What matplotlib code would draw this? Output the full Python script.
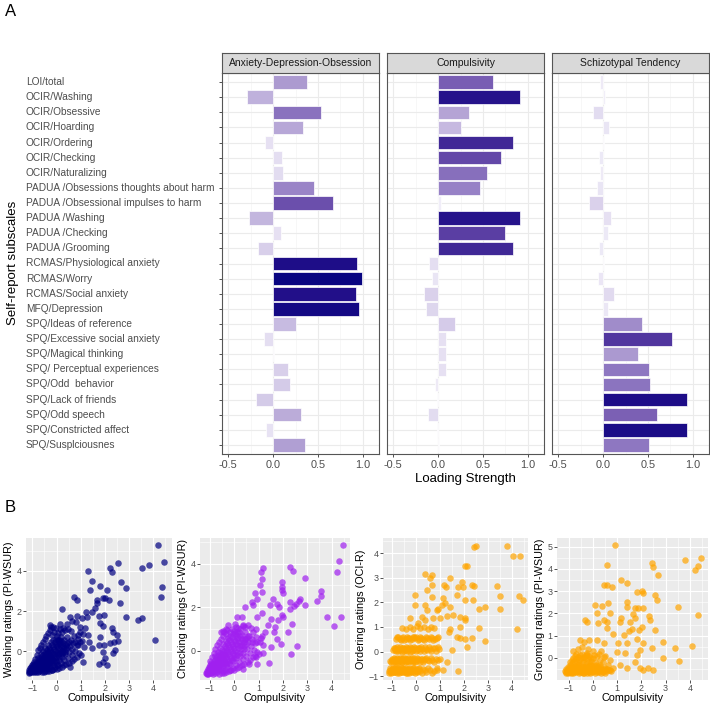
import numpy as np
import matplotlib
matplotlib.use("Agg")
import matplotlib.pyplot as plt
from matplotlib.colors import LinearSegmentedColormap
from matplotlib import transforms

plt.rcParams['font.family'] = ['Liberation Sans', 'DejaVu Sans']

# ---------------- Panel A data ----------------
subscales = [
    "LOI/total", "OCIR/Washing", "OCIR/Obsessive", "OCIR/Hoarding", "OCIR/Ordering",
    "OCIR/Checking", "OCIR/Naturalizing", "PADUA /Obsessions thoughts about harm",
    "PADUA /Obsessional impulses to harm", "PADUA /Washing", "PADUA /Checking",
    "PADUA /Grooming", "RCMAS/Physiological anxiety", "RCMAS/Worry",
    "RCMAS/Social anxiety", "MFQ/Depression", "SPQ/Ideas of reference",
    "SPQ/Excessive social anxiety", "SPQ/Magical thinking", "SPQ/ Perceptual experiences",
    "SPQ/Odd  behavior", "SPQ/Lack of friends", "SPQ/Odd speech",
    "SPQ/Constricted affect", "SPQ/Susplciousnes",
]
factors = ["Anxiety-Depression-Obsession", "Compulsivity", "Schizotypal Tendency"]

loading_ado = [0.38, -0.29, 0.53, 0.33, -0.09, 0.10, 0.11, 0.46, 0.67, -0.27, 0.09, -0.17,
               0.93, 0.99, 0.92, 0.96, 0.25, -0.10, 0.01, 0.17, 0.19, -0.19, 0.31, -0.08, 0.36]
loading_comp = [0.61, 0.91, 0.34, 0.26, 0.83, 0.70, 0.54, 0.47, 0.03, 0.91, 0.74, 0.83,
                -0.10, -0.07, -0.16, -0.14, 0.185, 0.09, 0.09, 0.09, -0.04, -0.01, -0.11, -0.01, 0.005]
loading_schizo = [-0.04, 0.02, -0.11, 0.07, 0.005, -0.05, -0.04, -0.07, -0.16, 0.09, 0.05, -0.05,
                  0.005, -0.06, 0.12, 0.055, 0.43, 0.77, 0.385, 0.51, 0.52, 0.93, 0.60, 0.94, 0.51]
loadings = [loading_ado, loading_comp, loading_schizo]

# ---------------- Panel B data (Compulsivity, rating) ----------------
washing_points = [
    [4.21, 5.29], [4.45, 4.46], [3.82, 4.30], [3.55, 4.13], [4.34, 3.22], [4.32, 2.69],
    [4.08, 0.56], [3.52, 1.68], [3.38, 1.54], [2.87, 1.73], [2.87, 3.14], [2.65, 3.44],
    [2.55, 4.38], [2.21, 4.17], [2.31, 3.93], [2.62, 2.42], [2.18, 2.56], [2.07, 3.05],
    [1.80, 3.27], [1.31, 4.00], [1.45, 3.50], [1.38, 3.05], [1.66, 2.56], [1.69, 2.39],
    [1.93, 2.64], [2.00, 2.67], [1.45, 1.97], [1.59, 2.14], [0.72, 2.72], [0.86, 2.56],
    [0.21, 2.11], [1.22, 1.94], [1.77, 1.76], [1.98, 1.81], [1.80, 1.43], [1.91, 1.28],
    [2.28, 1.18], [2.35, 0.98], [2.48, 0.81], [2.55, 0.51], [2.39, 0.48], [2.42, 0.07],
    [2.35, -0.10], [2.21, 0.40], [1.96, 0.32], [1.80, 0.73], [1.77, 0.32], [1.11, -0.51],
    [1.77, -0.65], [1.93, -0.05], [2.00, -0.35], [2.07, -0.68], [1.93, -0.51], [1.45, 0.15],
    [1.36, 0.48], [1.31, 0.81], [1.18, 1.15], [0.97, 1.23], [1.11, 0.85], [0.87, 0.81],
    [0.97, 0.48], [0.76, 0.48], [1.27, 1.73], [1.04, 1.68], [0.86, 1.76], [0.56, 1.73],
    [0.63, 1.51], [0.42, 1.34], [0.80, 1.44], [-0.27, 1.31], [-0.13, 1.23], [0.14, 1.34],
    [0.28, 1.18], [0.00, -0.68], [-0.41, -0.85],
    [-1.13, -1.06], [-1.10, -0.98], [-1.08, -1.04], [-1.05, -0.92], [-1.03, -1.01], [-1.01, -0.86],
    [-0.99, -0.97], [-0.97, -0.78], [-0.95, -1.03], [-0.93, -0.90], [-0.91, -0.70], [-0.89, -0.99],
    [-0.87, -0.83], [-0.85, -0.62], [-0.83, -0.95], [-0.81, -0.74], [-0.79, -0.52], [-0.77, -0.88],
    [-0.75, -0.66], [-0.73, -0.41], [-0.71, -1.00], [-0.69, -0.79], [-0.67, -0.57], [-0.65, -0.30],
    [-0.63, -0.92], [-0.61, -0.70], [-0.59, -0.47], [-0.57, -0.20], [-0.55, -0.85], [-0.53, -0.61],
    [-0.51, -0.37], [-0.49, -0.08], [-0.47, -0.97], [-0.45, -0.74], [-0.43, -0.50], [-0.41, -0.25],
    [-0.39, 0.05], [-0.37, -0.88], [-0.35, -0.64], [-0.33, -0.40], [-0.31, -0.14], [-0.29, 0.18],
    [-0.27, -0.78], [-0.25, -0.53], [-0.23, -0.28], [-0.21, -0.02], [-0.19, 0.30], [-0.17, -0.92],
    [-0.15, -0.67], [-0.13, -0.42], [-0.11, -0.16], [-0.09, 0.12], [-0.07, 0.45], [-0.05, -0.80],
    [-0.03, -0.55], [-0.01, -0.29], [0.01, -0.03], [0.03, 0.26], [0.05, 0.58], [0.07, -0.68],
    [0.09, -0.42], [0.11, -0.15], [0.13, 0.12], [0.15, 0.40], [0.18, 0.72], [0.20, -0.58],
    [0.22, -0.30], [0.25, -0.02], [0.27, 0.27], [0.30, 0.55], [0.33, -0.45], [0.36, -0.16],
    [0.39, 0.12], [0.42, 0.40], [0.45, 0.70], [0.48, -0.32], [0.52, -0.02], [0.55, 0.28],
    [0.58, 0.58], [0.62, -0.18], [0.66, 0.12], [0.70, 0.42], [0.74, 0.75], [0.78, 0.02],
    [0.83, 0.30], [0.88, 0.60], [0.92, -0.10],
    [-0.95, -0.55], [-0.88, -0.40], [-0.82, -0.20], [-0.76, 0.05], [-0.70, 0.15], [-0.62, 0.30],
    [-0.55, 0.45], [-0.48, 0.62], [-0.42, 0.75], [-0.35, 0.90], [-0.28, 1.05], [-0.20, 0.80],
    [-0.12, 0.95], [-0.02, 1.15], [0.08, 0.90], [0.14, 1.10], [0.24, 0.95], [0.35, 1.05],
    [0.48, 1.10], [0.60, 1.00], [-0.22, 1.22], [0.00, 0.75],
    [-0.60, -1.02], [-0.50, -1.05], [-0.40, -1.00], [-0.30, -0.98], [-0.20, -0.95], [-0.10, -0.90],
    [0.00, -0.88], [0.10, -0.82], [0.22, -0.78], [0.30, -0.70], [0.40, -0.65], [0.50, -0.60],
    [0.62, -0.50], [0.72, -0.40], [0.85, -0.30], [-0.85, -1.05], [-0.78, -1.02], [-1.15, -1.02],
    [-1.12, -0.92], [-1.08, -0.85], [-1.04, -0.78], [-1.00, -0.68], [-0.96, -0.62],
    [0.55, -0.80], [0.90, 0.30], [1.00, -0.20], [1.05, 0.50], [0.95, 0.95], [1.15, 0.20],
    [-1.06, -0.97], [-1.01, -0.93], [-0.97, -0.88], [-0.92, -0.95], [-0.90, -0.78], [-0.86, -0.72],
    [-0.83, -0.86], [-0.79, -0.66], [-0.76, -0.80], [-0.73, -0.58], [-0.70, -0.86], [-0.68, -0.46],
    [-0.64, -0.64], [-0.61, -0.38], [-0.58, -0.76], [-0.55, -0.52], [-0.52, -0.26], [-0.50, -0.68],
    [-0.47, -0.44], [-0.44, -0.16], [-0.42, -0.60], [-0.38, -0.34], [-0.36, -0.06], [-0.33, -0.72],
    [-0.30, -0.48], [-0.27, -0.22], [-0.25, 0.08], [-0.22, -0.60], [-0.20, -0.36], [-0.17, -0.10],
    [-0.14, 0.20], [-0.12, -0.52], [-0.09, -0.26], [-0.06, 0.02], [-0.04, 0.32], [-0.01, -0.42],
    [0.02, -0.14], [0.05, 0.14], [0.08, 0.42], [0.10, -0.30], [0.14, -0.02], [0.17, 0.26],
    [0.21, 0.02], [0.24, -0.14], [0.28, 0.42], [0.31, 0.18], [0.35, -0.02], [0.38, 0.30],
    [0.44, 0.22], [0.50, 0.48], [-0.78, -0.32], [-0.66, -0.14], [-0.56, 0.02], [-0.46, 0.14],
    [-0.34, 0.30], [-0.24, 0.46], [-0.14, 0.56], [-0.04, 0.62], [0.10, 0.58], [0.20, 0.50],
]

checking_points = [
    [4.48, 4.86], [4.32, 4.12], [4.23, 3.63], [4.37, 1.54], [4.11, 1.13], [3.82, 1.54],
    [3.56, 2.73], [3.55, 2.52], [3.41, 2.29], [2.90, 3.35], [2.90, 2.12], [2.70, 2.39],
    [2.67, 2.29], [2.55, 2.16], [2.29, 3.86], [2.42, 3.66], [2.29, 2.24], [2.29, 1.90],
    [2.45, 2.05], [2.36, 1.24], [2.22, 0.85], [2.56, 0.23], [2.33, -0.15], [1.95, 3.17],
    [1.95, 2.93], [1.95, 2.78], [2.01, 2.63], [1.74, 2.16], [1.60, 2.39], [1.84, 2.01],
    [1.95, 1.62], [2.01, 1.54], [1.81, 1.39], [1.67, 1.08], [1.64, 0.85], [1.92, 0.31],
    [1.74, 0.54], [1.19, 3.81], [1.08, 3.63], [1.16, 3.27], [1.15, 2.70], [1.05, 3.01],
    [0.92, 2.39], [0.85, 2.63], [0.71, 2.24], [0.78, 2.12], [0.92, 1.54], [0.44, 2.01],
    [1.12, 1.73], [1.47, 2.08], [1.53, 1.47], [1.40, 1.16], [1.26, 0.85], [1.12, 0.70],
    [1.05, 0.42], [1.44, -0.54], [0.92, -0.62], [0.85, -0.23], [1.19, -0.08], [1.53, 0.15],
    [0.10, 0.85], [0.37, 1.16], [0.10, 1.54], [0.30, 1.54], [0.03, 1.24], [-0.25, 1.19],
    [-0.32, 1.00], [0.37, -0.85], [0.71, 0.39], [0.58, 0.70], [0.44, 0.54],
    [-1.14, -1.08], [-1.11, -1.00], [-1.09, -1.05], [-1.06, -0.94], [-1.04, -1.02], [-1.02, -0.86],
    [-1.00, -0.96], [-0.98, -0.76], [-0.96, -1.04], [-0.94, -0.88], [-0.92, -0.66], [-0.90, -0.98],
    [-0.88, -0.80], [-0.86, -0.56], [-0.84, -0.93], [-0.82, -0.70], [-0.80, -0.44], [-0.78, -0.86],
    [-0.76, -0.60], [-0.74, -0.32], [-0.72, -0.99], [-0.70, -0.76], [-0.68, -0.50], [-0.66, -0.20],
    [-0.64, -0.90], [-0.62, -0.64], [-0.60, -0.38], [-0.58, -0.08], [-0.56, -0.82], [-0.54, -0.56],
    [-0.52, -0.28], [-0.50, 0.05], [-0.48, -0.95], [-0.46, -0.70], [-0.44, -0.42], [-0.42, -0.14],
    [-0.40, 0.20], [-0.38, -0.86], [-0.36, -0.58], [-0.34, -0.30], [-0.32, 0.00], [-0.30, 0.35],
    [-0.28, -0.75], [-0.26, -0.46], [-0.24, -0.16], [-0.22, 0.15], [-0.20, 0.50], [-0.18, -0.90],
    [-0.16, -0.62], [-0.14, -0.32], [-0.12, -0.02], [-0.10, 0.30], [-0.08, 0.65], [-0.06, -0.78],
    [-0.04, -0.48], [-0.02, -0.18], [0.00, 0.14], [0.02, 0.45], [0.04, 0.80], [0.07, -0.65],
    [0.09, -0.35], [0.11, -0.04], [0.13, 0.28], [0.16, 0.60], [0.19, 0.88], [0.21, -0.52],
    [0.23, -0.22], [0.26, 0.10], [0.28, 0.40], [0.31, 0.72], [0.34, -0.38], [0.37, -0.08],
    [0.40, 0.24], [0.43, 0.55], [0.46, 0.88], [0.50, -0.25], [0.53, 0.06], [0.56, 0.38],
    [0.60, 0.70], [0.64, -0.12], [0.68, 0.20], [0.72, 0.52], [0.76, 0.85], [0.80, 0.05],
    [0.85, 0.35], [0.90, 0.65], [0.95, -0.05],
    [-0.98, -0.45], [-0.92, -0.30], [-0.85, -0.10], [-0.78, 0.10], [-0.72, 0.25], [-0.64, 0.40],
    [-0.56, 0.55], [-0.48, 0.70], [-0.42, 0.88], [-0.36, 0.75], [-0.28, 0.95], [-0.18, 0.85],
    [-0.10, 1.00], [-0.02, 0.90], [0.06, 1.10], [0.15, 1.05], [0.25, 1.00], [0.35, 1.15],
    [0.45, 1.10], [0.55, 1.20], [-0.55, 0.85], [-0.46, 0.92],
    [-0.62, -1.05], [-0.52, -1.02], [-0.42, -1.00], [-0.32, -0.96], [-0.22, -0.94], [-0.12, -0.88],
    [-0.02, -0.86], [0.10, -0.80], [0.20, -0.76], [0.32, -0.66], [0.42, -0.60], [0.55, -0.52],
    [0.65, -0.42], [0.75, -0.30], [0.88, -0.28], [-0.86, -1.06], [-0.78, -1.03], [-1.16, -1.04],
    [-1.13, -0.93], [-1.09, -0.84], [-1.05, -0.76], [-1.01, -0.66], [-0.97, -0.58],
    [0.60, -0.60], [0.95, 0.40], [1.00, -0.15], [1.10, 0.60], [0.90, 1.00], [1.20, 0.25], [0.70, 1.05],
    [-1.07, -0.98], [-1.03, -0.90], [-0.99, -0.84], [-0.95, -0.94], [-0.91, -0.74], [-0.87, -0.66],
    [-0.83, -0.82], [-0.79, -0.58], [-0.75, -0.76], [-0.71, -0.50], [-0.69, -0.84], [-0.65, -0.36],
    [-0.63, -0.60], [-0.59, -0.26], [-0.57, -0.70], [-0.53, -0.44], [-0.51, -0.14], [-0.49, -0.62],
    [-0.45, -0.32], [-0.43, 0.00], [-0.41, -0.54], [-0.37, -0.20], [-0.35, 0.12], [-0.33, -0.64],
    [-0.29, -0.38], [-0.27, -0.06], [-0.25, 0.26], [-0.21, -0.54], [-0.19, -0.24], [-0.15, 0.06],
    [-0.13, 0.40], [-0.11, -0.44], [-0.07, -0.12], [-0.05, 0.20], [-0.03, 0.50], [0.00, -0.32],
    [0.03, -0.02], [0.06, 0.30], [0.10, 0.60], [0.12, -0.20], [0.15, 0.12], [0.18, 0.42],
    [0.22, 0.22], [0.25, -0.08], [0.30, 0.55], [0.33, 0.26], [0.38, 0.06], [0.41, 0.40],
    [0.47, 0.30], [0.52, 0.60], [-0.80, -0.26], [-0.68, -0.04], [-0.58, 0.14], [-0.46, 0.30],
    [-0.36, 0.46], [-0.26, 0.60], [-0.16, 0.68], [-0.06, 0.76], [0.08, 0.72], [0.22, 0.70],
]

ordering_points = [
    [2.51, 4.29], [2.43, 4.24], [3.79, 4.29], [4.07, 3.90], [4.35, 3.90], [2.06, 3.48],
    [2.13, 3.48], [0.39, 3.15], [0.67, 3.11], [1.43, 2.98], [1.92, 2.84], [2.33, 2.70],
    [2.43, 2.66], [3.38, 2.66], [3.51, 2.26], [4.32, 2.26], [4.46, 2.09], [3.51, 1.75],
    [2.89, 1.82], [2.65, 1.71], [1.99, 2.64], [1.78, 2.64], [2.06, 2.09], [2.40, 2.09],
    [1.71, 2.30], [1.43, 1.82], [1.22, 1.96], [1.19, 2.70], [1.26, 2.64], [1.15, 2.16],
    [0.67, 2.70], [0.60, 2.98], [0.46, 2.50], [0.67, 2.23], [-0.03, 2.30], [-0.03, 1.89],
    [0.39, 1.89], [0.49, 1.68], [0.94, 1.75], [1.08, 1.89], [0.88, 1.68], [1.57, 1.48],
    [1.85, 1.41], [2.06, 1.35], [2.06, 1.28], [1.29, 1.44], [1.01, 1.35], [0.74, 1.35],
    [0.39, 1.28], [0.25, 1.41], [-0.24, 1.35], [0.11, 1.14], [1.43, 0.90], [1.40, 0.80],
    [1.85, 1.00], [1.71, 0.60], [1.85, 0.53], [2.06, 0.49], [2.33, 0.56], [2.13, 0.19],
    [2.89, 0.43], [2.64, 0.94], [4.21, 0.91], [1.29, -0.42], [1.78, -0.79], [1.15, -0.76],
    [1.50, 0.05], [1.01, -0.31], [0.88, -0.69],
    # band around -0.8
    [-1.12, -0.86], [-1.08, -0.74], [-1.04, -0.82], [-1.00, -0.70], [-0.96, -0.85], [-0.92, -0.76],
    [-0.88, -0.66], [-0.84, -0.84], [-0.80, -0.72], [-0.76, -0.80], [-0.72, -0.68], [-0.68, -0.86],
    [-0.64, -0.75], [-0.60, -0.65], [-0.56, -0.82], [-0.52, -0.72], [-0.48, -0.84], [-0.44, -0.68],
    [-0.40, -0.78], [-0.36, -0.86], [-0.32, -0.70], [-0.28, -0.80], [-0.24, -0.66], [-0.20, -0.84],
    [-0.15, -0.74], [-0.10, -0.82], [-0.05, -0.68], [0.00, -0.78], [0.06, -0.85], [0.12, -0.72],
    [0.20, -0.80], [0.30, -0.70], [0.45, -0.82], [0.60, -0.74], [0.75, -0.80],
    [-1.10, -0.78], [-1.06, -0.68], [-1.02, -0.88], [-0.98, -0.76], [-0.94, -0.68], [-0.90, -0.84],
    [-0.86, -0.76], [-0.82, -0.64], [-0.78, -0.86], [-0.74, -0.76], [-0.70, -0.80], [-0.66, -0.70],
    [-0.62, -0.84], [-0.58, -0.76], [-0.54, -0.66], [-0.50, -0.80], [-0.46, -0.74], [-0.42, -0.86],
    [-0.38, -0.70], [-0.34, -0.80], [-0.30, -0.76], [-0.26, -0.86], [-0.22, -0.72], [-0.18, -0.78],
    [-0.12, -0.66], [-0.08, -0.76], [-0.02, -0.86], [0.04, -0.70], [0.09, -0.78], [0.16, -0.68],
    [0.25, -0.86], [0.38, -0.76], [0.52, -0.68], [0.68, -0.86], [0.90, -0.76],
    # band around -0.35
    [-1.06, -0.38], [-1.00, -0.30], [-0.95, -0.42], [-0.90, -0.26], [-0.85, -0.36], [-0.80, -0.44],
    [-0.75, -0.30], [-0.70, -0.38], [-0.65, -0.26], [-0.60, -0.42], [-0.55, -0.32], [-0.50, -0.38],
    [-0.45, -0.28], [-0.40, -0.44], [-0.35, -0.34], [-0.30, -0.26], [-0.25, -0.40], [-0.20, -0.30],
    [-0.15, -0.36], [-0.10, -0.44], [-0.05, -0.28], [0.02, -0.38], [0.10, -0.32], [0.18, -0.42],
    [0.26, -0.30], [0.35, -0.36], [0.45, -0.28], [0.55, -0.40], [0.70, -0.34], [0.85, -0.30],
    [-1.02, -0.44], [-0.97, -0.34], [-0.92, -0.40], [-0.87, -0.30], [-0.82, -0.38], [-0.77, -0.26],
    [-0.72, -0.44], [-0.67, -0.34], [-0.62, -0.30], [-0.57, -0.44], [-0.52, -0.26], [-0.47, -0.36],
    [-0.42, -0.30], [-0.37, -0.40], [-0.32, -0.44], [-0.27, -0.30], [-0.22, -0.36], [-0.17, -0.26],
    [-0.12, -0.40], [-0.07, -0.34], [-0.01, -0.44], [0.06, -0.28], [0.14, -0.36], [0.22, -0.30],
    [0.31, -0.42], [0.40, -0.32], [0.50, -0.36], [0.62, -0.28], [0.78, -0.42], [0.95, -0.36],
    # band around 0.1
    [-0.95, 0.08], [-0.88, 0.14], [-0.82, 0.02], [-0.76, 0.18], [-0.70, 0.06], [-0.64, 0.12],
    [-0.58, 0.00], [-0.52, 0.16], [-0.46, 0.08], [-0.40, 0.20], [-0.34, 0.04], [-0.28, 0.12],
    [-0.22, 0.18], [-0.16, 0.02], [-0.10, 0.10], [-0.04, 0.16], [0.04, 0.06], [0.12, 0.14],
    [0.20, 0.02], [0.28, 0.12], [0.38, 0.18], [0.48, 0.06], [0.60, 0.12], [0.72, 0.16],
    [0.85, 0.04], [0.98, 0.10],
    [-0.92, 0.16], [-0.85, 0.06], [-0.79, 0.10], [-0.73, 0.02], [-0.67, 0.18], [-0.61, 0.08],
    [-0.55, 0.14], [-0.49, 0.02], [-0.43, 0.12], [-0.37, 0.16], [-0.31, 0.06], [-0.25, 0.00],
    [-0.19, 0.14], [-0.13, 0.08], [-0.07, 0.20], [0.00, 0.04], [0.08, 0.16], [0.16, 0.10],
    [0.24, 0.18], [0.33, 0.04], [0.43, 0.12], [0.54, 0.18], [0.66, 0.04], [0.80, 0.14],
    [0.92, 0.18],
    # band around 0.55
    [-0.82, 0.50], [-0.72, 0.58], [-0.62, 0.46], [-0.52, 0.60], [-0.42, 0.52], [-0.32, 0.56],
    [-0.22, 0.48], [-0.12, 0.60], [-0.02, 0.54], [0.08, 0.48], [0.18, 0.58], [0.30, 0.52],
    [0.42, 0.60], [0.55, 0.50], [0.68, 0.56], [0.80, 0.52], [0.95, 0.58],
    [-0.77, 0.60], [-0.67, 0.50], [-0.57, 0.56], [-0.47, 0.48], [-0.37, 0.60], [-0.27, 0.54],
    [-0.17, 0.50], [-0.07, 0.58], [0.03, 0.60], [0.13, 0.52], [0.24, 0.56], [0.36, 0.48],
    [0.48, 0.56], [0.62, 0.60], [0.74, 0.48], [0.88, 0.56],
    # band around 1.0
    [-0.55, 0.96], [-0.40, 0.90], [-0.25, 1.00], [-0.10, 0.92], [0.05, 1.02], [0.20, 0.94],
    [0.35, 1.00], [0.50, 0.90], [0.62, 0.98], [0.78, 0.94],
]

grooming_points = [
    [0.92, 5.07], [0.60, 4.18], [3.79, 4.40], [4.45, 4.51], [4.34, 4.15], [4.21, 3.95],
    [2.42, 4.25], [2.47, 4.07], [2.70, 3.73], [1.15, 3.50], [1.40, 3.35], [0.58, 3.28],
    [0.78, 3.20], [0.44, 3.28], [1.84, 2.98], [2.01, 3.02], [2.05, 2.90], [2.56, 2.83],
    [2.63, 2.60], [1.40, 2.53], [1.42, 2.31], [1.74, 2.23], [1.88, 2.23], [2.08, 2.23],
    [2.32, 1.89], [2.36, 1.71], [3.53, 2.31], [4.34, 1.93], [1.67, 1.98], [1.74, 1.78],
    [1.15, 1.78], [1.12, 1.63], [1.53, 1.63], [0.64, 2.46], [0.10, 2.38], [0.37, 2.35],
    [0.71, 2.01], [0.44, 1.71], [0.23, 1.59], [0.58, 1.63], [0.16, 2.01], [-0.32, 1.71],
    [-0.25, 1.63], [0.58, 1.33], [0.85, 1.08], [1.29, 1.03], [1.47, 1.23], [1.60, 1.29],
    [1.92, 1.26], [2.01, 1.38], [2.56, 1.26], [2.90, 0.73], [1.84, 0.84], [2.08, 0.66],
    [2.42, 0.43], [3.38, 0.43], [4.07, 0.54], [2.90, -0.01], [3.55, -0.15], [2.49, -0.54],
    [2.29, -0.46], [1.95, -0.46], [2.08, -0.54], [1.74, -0.16], [1.33, 0.21], [0.99, 0.28],
    [1.05, 0.66], [1.40, 0.66], [0.44, 0.66], [0.16, 0.81], [-0.14, 0.81], [-0.38, 0.73],
    [-0.52, 0.81], [-0.25, 0.21], [1.12, -0.31], [1.40, -0.46], [0.85, -0.46], [0.30, -0.39],
    [1.81, 0.13], [1.95, 0.36],
    # dense floor cluster
    [-1.12, -0.66], [-1.08, -0.60], [-1.04, -0.66], [-1.00, -0.55], [-0.96, -0.64], [-0.92, -0.50],
    [-0.88, -0.62], [-0.84, -0.42], [-0.80, -0.60], [-0.76, -0.52], [-0.72, -0.34], [-0.68, -0.64],
    [-0.64, -0.48], [-0.60, -0.58], [-0.56, -0.28], [-0.52, -0.62], [-0.48, -0.44], [-0.44, -0.56],
    [-0.40, -0.20], [-0.36, -0.66], [-0.32, -0.50], [-0.28, -0.36], [-0.24, -0.60], [-0.20, -0.46],
    [-0.16, -0.62], [-0.12, -0.30], [-0.08, -0.54], [-0.04, -0.64], [0.00, -0.42], [0.05, -0.58],
    [0.10, -0.50], [0.15, -0.62], [0.20, -0.36], [0.26, -0.56], [0.32, -0.48], [0.40, -0.62],
    [0.48, -0.44], [0.56, -0.58], [0.65, -0.52], [0.75, -0.60],
    [-1.10, -0.48], [-1.02, -0.40], [-0.94, -0.30], [-0.86, -0.22], [-0.78, -0.14], [-0.70, -0.06],
    [-0.62, 0.04], [-0.54, 0.12], [-0.46, 0.20], [-0.38, 0.06], [-0.30, 0.14], [-0.22, -0.04],
    [-0.14, 0.08], [-0.06, -0.12], [0.02, 0.02], [0.10, -0.18], [0.18, 0.10], [0.28, -0.10],
    [-0.90, -0.66], [-0.82, -0.66], [-0.74, -0.58], [-0.66, -0.40], [-0.58, -0.66], [-0.50, -0.52],
    [-0.42, -0.66], [-0.34, -0.42], [-0.26, -0.66], [-0.18, -0.54], [-0.10, -0.66], [-0.02, -0.50],
    [0.08, -0.66], [0.22, -0.60], [0.35, -0.66], [0.52, -0.66], [0.62, -0.32], [0.70, -0.10],
    [-0.80, 0.30], [-0.60, 0.40], [-0.45, 0.50], [-0.70, 0.20], [0.35, 0.30], [0.50, 0.10],
    [0.00, 0.30], [-0.20, 0.40],
    [-1.14, -0.60], [-1.10, -0.64], [-1.06, -0.52], [-1.02, -0.62], [-0.98, -0.46], [-0.94, -0.58],
    [-0.90, -0.40], [-0.86, -0.56], [-0.82, -0.46], [-0.78, -0.62], [-0.74, -0.40], [-0.70, -0.52],
    [-0.66, -0.58], [-0.62, -0.30], [-0.58, -0.46], [-0.54, -0.56], [-0.50, -0.34], [-0.46, -0.62],
    [-0.42, -0.40], [-0.38, -0.52], [-0.34, -0.60], [-0.30, -0.26], [-0.26, -0.46], [-0.22, -0.58],
    [-0.18, -0.36], [-0.14, -0.48], [-0.10, -0.56], [-0.06, -0.30], [-0.02, -0.60], [0.03, -0.48],
    [0.08, -0.36], [0.13, -0.56], [0.18, -0.46], [0.24, -0.64], [0.30, -0.30], [0.36, -0.54],
    [0.44, -0.50], [0.52, -0.56], [0.60, -0.48], [0.70, -0.56], [-0.96, -0.20], [-0.88, -0.10],
    [-0.80, 0.00], [-0.72, 0.10], [-0.64, -0.20], [-0.56, -0.08], [-0.48, 0.02], [-0.40, -0.10],
    [-0.32, -0.02], [-0.24, 0.12], [-0.16, -0.20], [-0.08, 0.00], [0.06, 0.12], [0.14, -0.30],
    [0.24, 0.20], [0.40, -0.20], [0.46, 0.04],
]

scatter_specs = [
    (washing_points, "#000080", "Washing ratings (PI-WSUR)"),
    (checking_points, "#A020F0", "Checking ratings (PI-WSUR)"),
    (ordering_points, "#FFA500", "Ordering ratings (OCI-R)"),
    (grooming_points, "#FFA500", "Grooming ratings (PI-WSUR)"),
]

# ---------------- Figure ----------------
W, H = 710, 703
fig = plt.figure(figsize=(W / 100, H / 100), dpi=100)


def fbox(x0, y0, x1, y1):
    return [x0 / W, 1 - y1 / H, (x1 - x0) / W, (y1 - y0) / H]


cmap = LinearSegmentedColormap.from_list("load", [
    (0.0, "#f4f2fa"), (0.1, "#e4def1"), (0.2, "#d2c8e7"), (0.35, "#b3a2d4"),
    (0.5, "#9079c2"), (0.6, "#7b60b4"), (0.75, "#583ca2"), (0.85, "#3a2393"),
    (0.93, "#1f0d88"), (1.0, "#060480")])

grey_txt = "#4d4d4d"
panel_x = [(222, 379), (387, 544), (552, 709)]
ypos = np.arange(len(subscales))
bar_axes = []
for k, (x0, x1) in enumerate(panel_x):
    ax = fig.add_axes(fbox(x0, 73, x1, 454))
    bar_axes.append(ax)
    vals = np.array(loadings[k])
    ax.barh(ypos, vals, height=0.9, color=cmap(np.clip(np.abs(vals), 0, 1)),
            edgecolor="white", linewidth=0.5, zorder=3)
    ax.set_xlim(-0.57, 1.18)
    ax.set_ylim(len(subscales) - 0.4, -0.6)
    ax.set_xticks([-0.5, 0.0, 0.5, 1.0])
    ax.set_xticklabels(["-0.5", "0.0", "0.5", "1.0"], fontsize=7.8, color=grey_txt)
    ax.set_xticks([-0.25, 0.25, 0.75], minor=True)
    ax.set_yticks(ypos)
    ax.set_yticklabels([])
    ax.grid(True, which="major", color="#ebebeb", linewidth=0.8, zorder=0)
    ax.grid(True, which="minor", axis="x", color="#f4f4f4", linewidth=0.5, zorder=0)
    ax.set_axisbelow(True)
    ax.tick_params(axis="x", which="major", length=2.5, width=0.6, color="#333333", pad=2)
    ax.tick_params(axis="x", which="minor", length=0)
    if k == 0:
        ax.tick_params(axis="y", length=2.5, width=0.6, color="#333333")
    else:
        ax.tick_params(axis="y", length=0)
    for s in ax.spines.values():
        s.set_color("#555555")
        s.set_linewidth(0.8)
    # strip
    sax = fig.add_axes(fbox(x0, 53, x1, 73))
    sax.set_facecolor("#d9d9d9")
    sax.set_xticks([])
    sax.set_yticks([])
    for s in sax.spines.values():
        s.set_color("#555555")
        s.set_linewidth(0.8)
    sax.text(0.5, 0.5, factors[k], ha="center", va="center", fontsize=7.5, color="#1a1a1a",
             transform=sax.transAxes)

# category labels (left aligned)
trans = transforms.blended_transform_factory(fig.transFigure, bar_axes[0].transData)
for i, lab in enumerate(subscales):
    fig.text(26 / W, i, lab, transform=trans, ha="left", va="center", fontsize=7.3, color=grey_txt)

fig.text(13 / W, 1 - 263 / H, "Self-report subscales", rotation=90, ha="center", va="center",
         fontsize=9.5, color="black")
fig.text(465 / W, 1 - 479 / H, "Loading Strength", ha="center", va="center", fontsize=9.5)
fig.text(5 / W, 1 - 11 / H, "A", ha="left", va="center", fontsize=12)
fig.text(5 / W, 1 - 508 / H, "B", ha="left", va="center", fontsize=12)

# ---------------- Scatter panels ----------------
sc_boxes = [(26, 172), (200, 350), (383, 528), (557, 708)]
sc_xlims = [(-1.26, 4.77), (-1.41, 4.76), (-1.36, 4.68), (-1.48, 4.75)]
sc_ylims = [(-1.43, 5.64), (-1.34, 5.17), (-1.16, 4.62), (-0.99, 5.39)]
sc_yticks = [[0, 2, 4], [0, 2, 4], [-1, 0, 1, 2, 3, 4], [0, 1, 2, 3, 4, 5]]
sc_yminor = [[-1, 1, 3, 5], [-1, 1, 3, 5], [-0.5, 0.5, 1.5, 2.5, 3.5, 4.5],
             [-0.5, 0.5, 1.5, 2.5, 3.5, 4.5]]

for k, (pts, col, ylab) in enumerate(scatter_specs):
    x0, x1 = sc_boxes[k]
    ax = fig.add_axes(fbox(x0, 538, x1, 680))
    ax.set_facecolor("#ebebeb")
    arr = np.array(pts)
    ax.scatter(arr[:, 0], arr[:, 1], s=22, color=col, alpha=0.7, linewidths=0, zorder=3)
    ax.set_xlim(*sc_xlims[k])
    ax.set_ylim(*sc_ylims[k])
    ax.set_xticks([-1, 0, 1, 2, 3, 4])
    ax.set_xticks([-0.5, 0.5, 1.5, 2.5, 3.5, 4.5], minor=True)
    ax.set_yticks(sc_yticks[k])
    ax.set_yticks(sc_yminor[k], minor=True)
    ax.grid(True, which="major", color="white", linewidth=0.8, zorder=0)
    ax.grid(True, which="minor", color="white", linewidth=0.4, zorder=0)
    ax.set_axisbelow(True)
    for s in ax.spines.values():
        s.set_visible(False)
    ax.tick_params(axis="both", which="major", labelsize=6.4, labelcolor=grey_txt,
                   length=2, width=0.6, color="#333333", pad=1.2)
    ax.tick_params(axis="both", which="minor", length=0)
    ax.set_xlabel("Compulsivity", fontsize=7.8, labelpad=0)
    ax.set_ylabel(ylab, fontsize=7.8, labelpad=2)

fig.savefig("out.png", dpi=100)
